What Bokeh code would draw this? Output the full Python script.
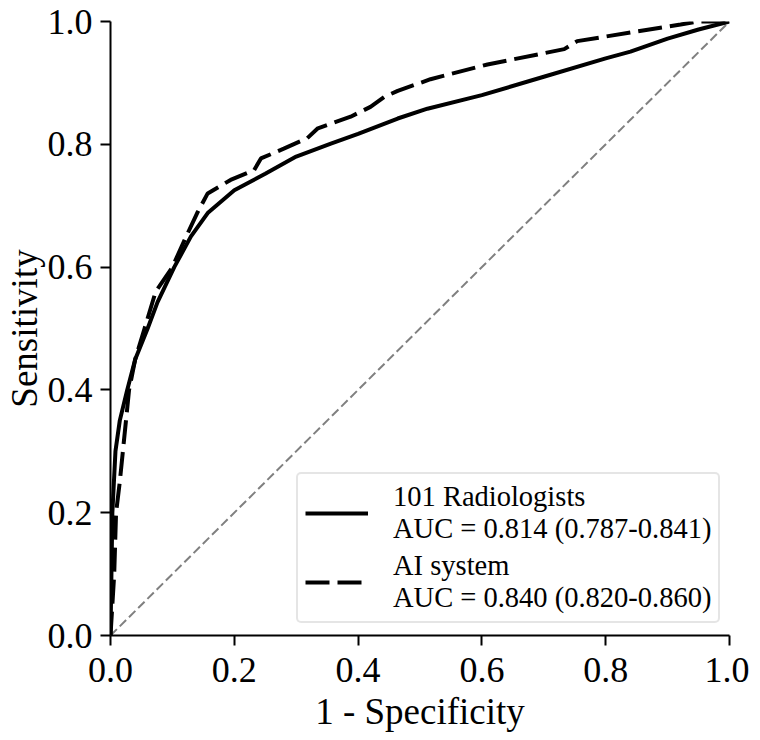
from bokeh.plotting import figure
from bokeh.models import Legend, LegendItem, Range1d, FixedTicker
from bokeh.embed import file_html
from bokeh.resources import INLINE

# --- data ---
rad_fpr = [0, 0.003, 0.008, 0.015, 0.027, 0.04, 0.06, 0.076, 0.103, 0.13, 0.157, 0.2,
           0.25, 0.3, 0.356, 0.4, 0.464, 0.512, 0.6, 0.7, 0.8, 0.84, 0.9, 0.95, 1.0]
rad_tpr = [0, 0.2, 0.3, 0.35, 0.4, 0.45, 0.5, 0.543, 0.6, 0.65, 0.688, 0.725,
           0.752, 0.78, 0.801, 0.817, 0.842, 0.858, 0.88, 0.91, 0.94, 0.951, 0.972, 0.987, 1.0]

ai_fpr = [0, 0.003, 0.006, 0.009, 0.015, 0.02, 0.03, 0.04, 0.055, 0.073, 0.1, 0.12, 0.14,
          0.157, 0.194, 0.232, 0.243, 0.28, 0.318, 0.335, 0.388, 0.42, 0.442, 0.464, 0.517,
          0.609, 0.733, 0.754, 0.84, 0.921, 0.95, 1.0]
ai_tpr = [0, 0.05, 0.1, 0.2, 0.25, 0.3, 0.4, 0.45, 0.5, 0.56, 0.6, 0.645, 0.688,
          0.72, 0.742, 0.758, 0.777, 0.793, 0.81, 0.826, 0.845, 0.861, 0.877, 0.887, 0.906,
          0.93, 0.955, 0.968, 0.982, 0.995, 1.0, 1.0]

chance = [0, 1]

rad_label = "101 Radiologists\nAUC = 0.814 (0.787-0.841)"
ai_label = "AI system\nAUC = 0.840 (0.820-0.860)"
ticks = [0.0, 0.2, 0.4, 0.6, 0.8, 1.0]
tick_labels = {0.0: "0.0", 0.2: "0.2", 0.4: "0.4", 0.6: "0.6", 0.8: "0.8", 1.0: "1.0"}

FONT = "Liberation Serif"

p = figure(frame_width=619, frame_height=614, output_backend="svg", toolbar_location=None,
           x_range=Range1d(0, 1), y_range=Range1d(0, 1),
           min_border_left=105, min_border_right=20, min_border_top=21, min_border_bottom=90)

p.grid.visible = False
p.outline_line_color = None
p.background_fill_color = "white"

p.line(chance, chance, line_color="#808080", line_width=2, line_dash="9 4")
r1 = p.line(rad_fpr, rad_tpr, line_color="black", line_width=4)
r2 = p.line(ai_fpr, ai_tpr, line_color="black", line_width=4, line_dash="24 8")

for ax in (p.xaxis[0], p.yaxis[0]):
    ax.ticker = FixedTicker(ticks=ticks)
    ax.major_label_overrides = tick_labels
    ax.minor_tick_line_color = None
    ax.major_tick_in = 0
    ax.major_tick_out = 10
    ax.major_tick_line_width = 2
    ax.axis_line_width = 2
    ax.major_label_text_font = FONT
    ax.major_label_text_font_size = "36px"
    ax.major_label_text_color = "black"
    ax.axis_label_text_font = FONT
    ax.axis_label_text_font_size = "37px"
    ax.axis_label_text_font_style = "normal"
    ax.axis_label_text_color = "black"

p.xaxis.axis_label = "1 - Specificity"
p.yaxis.axis_label = "Sensitivity"
p.xaxis.major_label_standoff = 12
p.yaxis.major_label_standoff = 8
p.xaxis.axis_label_standoff = 6
p.yaxis.axis_label_standoff = 0

legend = Legend(items=[LegendItem(label=rad_label, renderers=[r1]),
                       LegendItem(label=ai_label, renderers=[r2])],
                location=(186, 12))
legend.label_text_font = FONT
legend.label_text_font_size = "28.5px"
legend.label_text_color = "black"
legend.label_text_line_height = 1.0
legend.glyph_width = 63
legend.label_standoff = 25
legend.padding = 7
legend.spacing = 5
legend.margin = 0
legend.border_line_color = "#cccccc"
legend.border_line_width = 2
legend.border_radius = 5
legend.background_fill_alpha = 0.8
p.add_layout(legend)

open("out.html", "w").write(file_html(p, INLINE))
